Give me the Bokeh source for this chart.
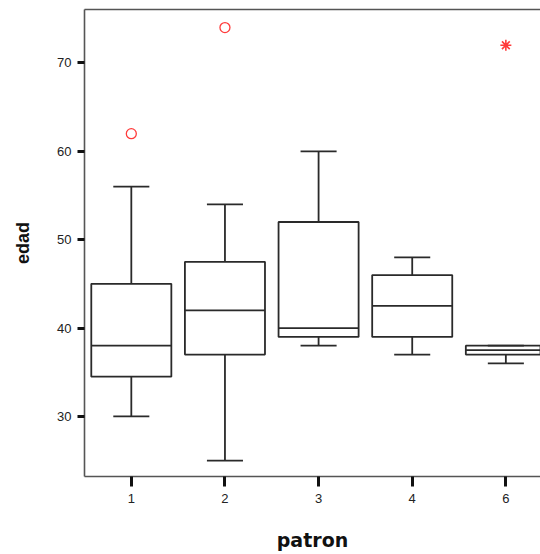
from bokeh.plotting import figure
from bokeh.models import Range1d, FixedTicker, LinearAxis
from bokeh.embed import file_html
from bokeh.resources import INLINE

# ---- data ----
categories = ["1", "2", "3", "4", "6"]
lower_whisker = [30, 25, 38, 37, 36]
q1 = [34.5, 37, 39, 39, 37]
median = [38, 42, 40, 42.5, 37.5]
q3 = [45, 47.5, 52, 46, 38]
upper_whisker = [56, 54, 60, 48, 38]
outlier_cats = ["1", "2"]
outlier_vals = [62, 74]
extreme_cats = ["6"]
extreme_vals = [72]
y_ticks = [30, 40, 50, 60, 70]

pos = {c: i + 0.5 for i, c in enumerate(categories)}
xs = [pos[c] for c in categories]
box_w = 0.855
cap_w = 0.385

p = figure(width=540, height=554, output_backend="svg", toolbar_location=None,
           x_range=Range1d(0, 4.87), y_range=Range1d(23.2, 76.05),
           min_border_left=84, min_border_top=9, min_border_right=0,
           min_border_bottom=78)
p.outline_line_color = None
p.grid.visible = False
p.background_fill_color = "white"
p.border_fill_color = "white"

line_col = "#2a2a2a"
lw = 1.8

# boxes
p.vbar(x=xs, width=box_w, bottom=q1, top=q3, fill_color="white",
       line_color=line_col, line_width=lw)
# medians
p.segment(x0=[x - box_w / 2 for x in xs], y0=median,
          x1=[x + box_w / 2 for x in xs], y1=median,
          line_color=line_col, line_width=lw)
# whiskers
p.segment(x0=xs, y0=q3, x1=xs, y1=upper_whisker, line_color=line_col, line_width=lw)
p.segment(x0=xs, y0=q1, x1=xs, y1=lower_whisker, line_color=line_col, line_width=lw)
# caps
p.segment(x0=[x - cap_w / 2 for x in xs], y0=upper_whisker,
          x1=[x + cap_w / 2 for x in xs], y1=upper_whisker,
          line_color=line_col, line_width=lw)
p.segment(x0=[x - cap_w / 2 for x in xs], y0=lower_whisker,
          x1=[x + cap_w / 2 for x in xs], y1=lower_whisker,
          line_color=line_col, line_width=lw)

# outliers
p.scatter(x=[pos[c] for c in outlier_cats], y=outlier_vals, marker="circle",
          size=10, fill_color=None, line_color="#ff3b3b", line_width=1.3)
p.scatter(x=[pos[c] for c in extreme_cats], y=extreme_vals, marker="asterisk",
          size=11, line_color="#ff3b3b", line_width=1.6)

# axes
axis_col = "#555555"
xa = p.xaxis[0]
xa.ticker = FixedTicker(ticks=xs)
xa.major_label_overrides = {x: c for x, c in zip(xs, categories)}
xa.minor_tick_line_color = None
xa.major_tick_in = 0
xa.major_tick_out = 10
xa.major_tick_line_width = 3
xa.major_tick_line_color = "#111111"
xa.axis_line_color = axis_col
xa.axis_line_width = 1.6
xa.major_label_standoff = 7
xa.major_label_text_font = "Liberation Sans"
xa.major_label_text_font_size = "13px"
xa.major_label_text_color = "#222222"
xa.axis_label = "patron"
xa.axis_label_text_font = "DejaVu Sans"
xa.axis_label_text_font_style = "bold"
xa.axis_label_text_font_size = "19px"
xa.axis_label_text_color = "#111111"
xa.axis_label_standoff = 23

ya = p.yaxis[0]
ya.ticker = FixedTicker(ticks=y_ticks)
ya.minor_tick_line_color = None
ya.major_tick_in = 0
ya.major_tick_out = 7
ya.major_tick_line_width = 3
ya.major_tick_line_color = "#111111"
ya.axis_line_color = axis_col
ya.axis_line_width = 1.6
ya.major_label_standoff = 6
ya.major_label_text_font = "Liberation Sans"
ya.major_label_text_font_size = "13px"
ya.major_label_text_color = "#222222"
ya.axis_label = "edad"
ya.axis_label_text_font = "Liberation Sans"
ya.axis_label_text_font_style = "bold"
ya.axis_label_text_font_size = "18px"
ya.axis_label_text_color = "#111111"
ya.axis_label_standoff = 21

top_axis = LinearAxis(ticker=FixedTicker(ticks=[]), axis_line_color=axis_col,
                      axis_line_width=1.6, major_tick_line_color=None,
                      minor_tick_line_color=None,
                      major_label_text_font_size="0px")
p.add_layout(top_axis, "above")

open("out.html", "w").write(file_html(p, INLINE))
